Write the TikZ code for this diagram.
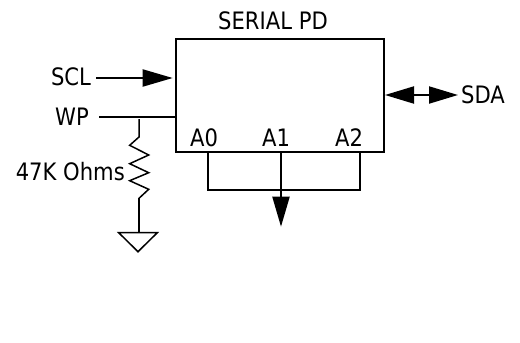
\documentclass[tikz,border=0pt]{standalone}
\usepackage{fontspec}
\setmainfont{DejaVu Sans}[FakeStretch=0.88]
\usetikzlibrary{arrows.meta}
\tikzset{
  wire/.style={line width=2pt,line cap=butt},
  thin wire/.style={line width=1.5pt,line join=miter},
  label/.style={inner sep=0pt,font=\fontsize{24}{26}\selectfont,text=black},
  bighead/.style={-{Triangle[length=30pt,width=17pt]}},
  bothheads/.style={{Triangle[length=29pt,width=17pt]}-{Triangle[length=29pt,width=17pt]}},
}
\begin{document}
\begin{tikzpicture}[x=1pt,y=-1pt]
\useasboundingbox (0,0) rectangle (520,343);
\node[draw,wire,minimum width=208pt,minimum height=113pt,inner sep=0pt,anchor=north west,outer sep=0pt] (box) at (176,39) {};
\node[label] (title) at (273,21) {SERIAL PD};
\node[label] (scl) at (71,77) {SCL};
\node[label] (wp) at (72,117) {WP};
\node[label] (sda) at (483,95) {SDA};
\node[label] (a0) at (204,138) {A0};
\node[label] (a1) at (276,138) {A1};
\node[label] (a2) at (349,138) {A2};
\node[label,anchor=east] (ohms) at (125,172) {47K Ohms};
\coordinate (sclend) at (172.7,78);
\coordinate (sclstart) at (96,78);
\coordinate (wpstart) at (99,117);
\coordinate (wpend) at (176,117);
\coordinate (sdaL) at (385,95);
\coordinate (sdaR) at (458,95);
\coordinate (b0) at (208,152);
\coordinate (b1) at (281,152);
\coordinate (b2) at (360,152);
\coordinate (arrowend) at (281,226.7);
\coordinate (gnd) at (139,232.7);
\draw[wire,bighead] (sclstart) -- (sclend);
\draw[wire] (wpstart) -- (wpend);
\draw[wire,bothheads] (sdaL) -- (sdaR);
\draw[wire,line join=miter] (b0) |- (b2 |- 0,190) -- (b2);
\draw[wire,bighead] (b1) -- (arrowend);
\draw[thin wire] (139,119) -- (139,137) -- (129.7,145.3) -- (148.7,155) -- (129.7,163.7) -- (148.7,172.7) -- (129.7,180.7) -- (148.7,189.3) -- (139,198.3);
\draw[wire] (139,198.3) -- (gnd);
\draw[thin wire] (118.7,232.7) -- (157.3,232.7) -- (138,251.7) -- cycle;
\end{tikzpicture}
\end{document}
